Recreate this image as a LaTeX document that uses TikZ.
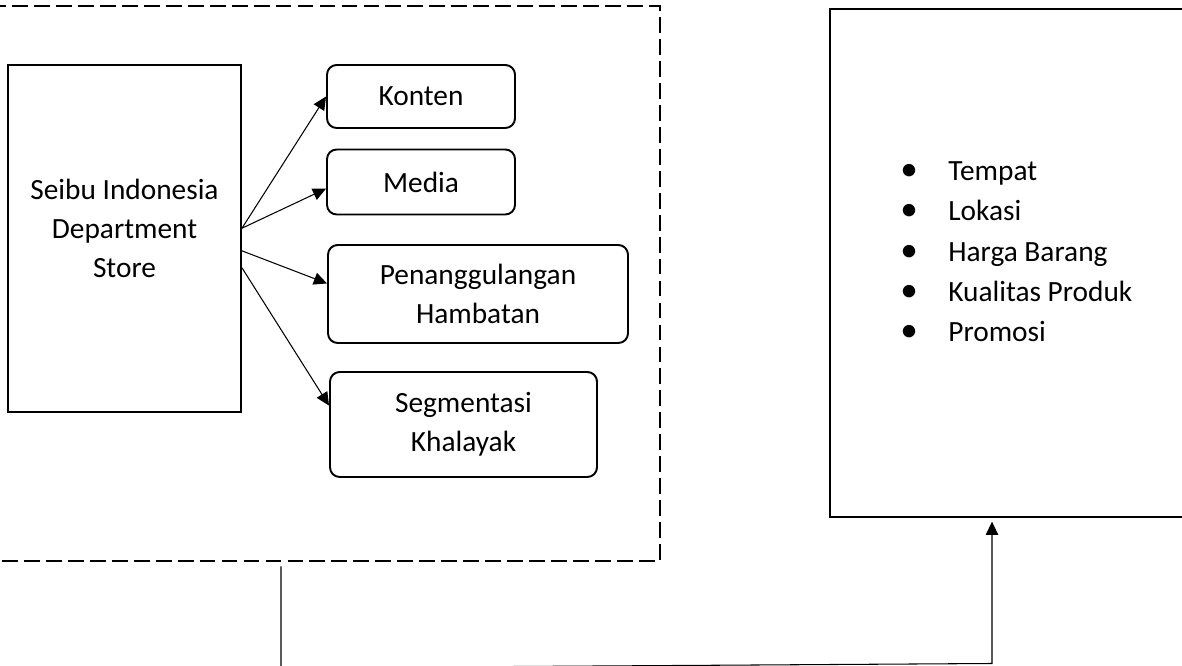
\documentclass[tikz,border=0pt]{standalone}
\usepackage{fontspec}
\setmainfont{Carlito}
\usetikzlibrary{arrows.meta, positioning}

\begin{document}
\begin{tikzpicture}[
  sqbox/.style={rectangle, draw=black, line width=1.1pt, align=center,
                font=\fontsize{16.7}{22.3}\selectfont},
  rbox/.style={sqbox, rounded corners=5.5pt},
  dashbox/.style={rectangle, draw=black, line width=1.4pt,
                  dash pattern=on 9pt off 3.5pt},
  arr/.style={-{Triangle[length=7.5pt, width=7pt]}, line width=0.6pt}
]
\useasboundingbox (0,0) rectangle (23.64,-13.32);

% Group (dashed)
\node[dashbox, minimum width=13.6cm, minimum height=11.1cm] (group) at (6.40,-5.67) {};

% Left column
\node[sqbox, minimum width=4.66cm, minimum height=6.94cm, text depth=0.4cm]
      (seibu) at (2.49,-4.77) {Seibu Indonesia\\Department\\Store};

% Right column of the group
\node[rbox, minimum width=3.76cm, minimum height=1.26cm] (konten) at (8.42,-1.93) {Konten};
\node[rbox, minimum width=3.76cm, minimum height=1.30cm] (media)  at (8.42,-3.64) {Media};
\node[rbox, minimum width=6.00cm, minimum height=1.96cm] (penang) at (9.56,-5.88) {Penanggulangan\\Hambatan};
\node[rbox, minimum width=5.34cm, minimum height=2.10cm] (segmen) at (9.27,-8.49) {Segmentasi\\Khalayak};

% Factors box
\node[sqbox, line width=1.3pt, minimum width=7.8cm, minimum height=10.16cm] (faktor) at (20.50,-5.26) {};
\node[anchor=west, inner sep=0pt, font=\fontsize{16.7}{22.8}\selectfont] (faktorlist) at (18.0,-5.06)
  {\begin{tabular}{@{}p{0.96cm}@{}l@{}}
     {\fontsize{20}{20}\selectfont\textbullet} & Tempat\\
     {\fontsize{20}{20}\selectfont\textbullet} & Lokasi\\
     {\fontsize{20}{20}\selectfont\textbullet} & Harga Barang\\
     {\fontsize{20}{20}\selectfont\textbullet} & Kualitas Produk\\
     {\fontsize{20}{20}\selectfont\textbullet} & Promosi
   \end{tabular}};

% Fan-out arrows
\draw[arr] (seibu.5)   -- (konten.west);
\draw[arr] (seibu.5)   -- (media.184);
\draw[arr] (seibu.-6)  -- (penang.176);
\draw[arr] (seibu.-14) -- (segmen.172);

% Bottom link to factors
\coordinate (drop) at (5.62,-13.36);
\coordinate (turn) at (19.84,-13.27);
\draw[arr, shorten <=2.3pt, shorten >=2pt] (group.south -| drop) -- (drop) -- (turn) -- (turn |- faktor.south);
\end{tikzpicture}
\end{document}
